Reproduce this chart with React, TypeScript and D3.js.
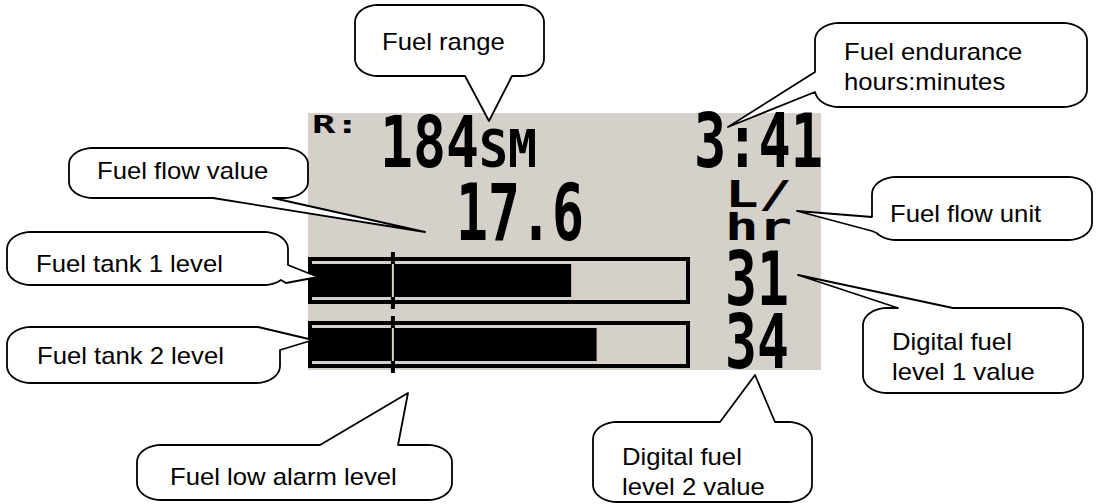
import React, { useEffect, useRef } from "react";
import * as d3 from "d3";

// readings shown on the fuel display
const tankNames = ["Tank 1", "Tank 2"];
const tankLevels = [31, 34];
const tankCapacity = 45;
const lowAlarmLevel = 10;
const rangeValue = 184;
const rangeUnit = "SM";
const enduranceText = "3:41";
const flowValue = 17.6;
const flowUnit = ["L/", "hr"];

// callout captions
const calloutTexts = [
  ["Fuel range"],
  ["Fuel endurance", "hours:minutes"],
  ["Fuel flow value"],
  ["Fuel flow unit"],
  ["Fuel tank 1 level"],
  ["Fuel tank 2 level"],
  ["Digital fuel", "level 1 value"],
  ["Fuel low alarm level"],
  ["Digital fuel", "level 2 value"],
];

const W = 1096;
const H = 504;

// sample a rounded rect outline clockwise, then splice the pointer wedge in
function calloutPath(box: number[], ptr: number[][]) {
  const [x, y, w, h] = box;
  const rx = Math.min(24, w * 0.12);
  const ry = Math.min(17, h * 0.32);
  const pts: [number, number][] = [];
  const corner = (cx: number, cy: number, a0: number) => {
    d3.range(0, 1.0001, 1 / 10).forEach(function (t) {
      const a = a0 + t * Math.PI / 2;
      pts.push([cx + rx * Math.cos(a), cy + ry * Math.sin(a)]);
    });
  };
  d3.range(x + rx, x + w - rx, 3).forEach(function (t) { pts.push([t, y]); });
  corner(x + w - rx, y + ry, -Math.PI / 2);
  d3.range(y + ry, y + h - ry, 3).forEach(function (t) { pts.push([x + w, t]); });
  corner(x + w - rx, y + h - ry, 0);
  d3.range(x + w - rx, x + rx, -3).forEach(function (t) { pts.push([t, y + h]); });
  corner(x + rx, y + h - ry, Math.PI / 2);
  d3.range(y + h - ry, y + ry, -3).forEach(function (t) { pts.push([x, t]); });
  corner(x + rx, y + ry, Math.PI);

  const nearest = (p: number[]) => d3.minIndex(pts, function (q) {
    return (q[0] - p[0]) ** 2 + (q[1] - p[1]) ** 2;
  });
  let b1 = ptr[0], b2 = ptr[1];
  let i1 = nearest(b1), i2 = nearest(b2);
  if (i1 > i2) { [i1, i2] = [i2, i1]; [b1, b2] = [b2, b1]; }
  const out = pts.slice(0, i1)
    .concat([[b1[0], b1[1]], [ptr[2][0], ptr[2][1]], [b2[0], b2[1]]] as [number, number][])
    .concat(pts.slice(i2 + 1));
  return d3.line()(out) + "Z";
}

export default function App() {
  const ref = useRef<SVGSVGElement>(null);

  useEffect(() => {
    const svg = d3.select(ref.current);
    svg.selectAll("*").remove();

    const panel = { x: 308, y: 113, w: 513, h: 257 };
    const lcdBg = "#d5d1ca";

    svg.append("rect")
      .attr("width", W).attr("height", H).attr("fill", "#fff");

    svg.append("rect")
      .attr("x", panel.x).attr("y", panel.y)
      .attr("width", panel.w).attr("height", panel.h)
      .attr("fill", lcdBg);

    // tank bars
    const x = d3.scaleLinear().domain([0, tankCapacity]).range([308, 690]);
    const y = d3.scaleBand().domain(tankNames).range([257, 368]).paddingInner(17 / 64);
    const bw = y.bandwidth();

    const bars = svg.append("g").selectAll("g")
      .data(tankLevels)
      .enter().append("g")
      .attr("transform", function (d, i) { return "translate(0," + y(tankNames[i]) + ")"; });

    bars.append("rect")
      .attr("x", x(0)).attr("y", 0)
      .attr("width", x(tankCapacity) - x(0)).attr("height", bw)
      .attr("fill", "#000");
    bars.append("rect")
      .attr("x", x(0) + 4).attr("y", 4)
      .attr("width", x(tankCapacity) - x(0) - 8).attr("height", bw - 8)
      .attr("fill", lcdBg);
    bars.append("rect")
      .attr("x", x(0)).attr("y", 7)
      .attr("width", function (d) { return x(d) - x(0); })
      .attr("height", bw - 14)
      .attr("fill", "#000");
    // low alarm marker
    bars.append("rect")
      .attr("x", x(lowAlarmLevel) - 2).attr("y", -5)
      .attr("width", 4).attr("height", bw + 10)
      .attr("fill", "#000");
    bars.append("rect")
      .attr("x", x(lowAlarmLevel) - 1).attr("y", 7)
      .attr("width", 2).attr("height", bw - 14)
      .attr("fill", lcdBg);

    const lcdFont = "'DejaVu Sans Mono', 'Liberation Mono', monospace";

    // range value with its unit, one text element
    const rangeText = svg.append("text")
      .attr("x", 380).attr("y", 167)
      .attr("font-family", lcdFont)
      .attr("font-weight", "bold")
      .attr("fill", "#000");
    rangeText.append("tspan")
      .attr("font-size", 72)
      .attr("textLength", 99)
      .attr("lengthAdjust", "spacingAndGlyphs")
      .text(String(rangeValue));
    rangeText.append("tspan")
      .attr("font-size", 52)
      .attr("textLength", 58)
      .attr("lengthAdjust", "spacingAndGlyphs")
      .text(rangeUnit);

    // other lcd readouts
    const lcd = [
      { t: "R:", x: 312, b: 133, s: 25, len: 47 },
      { t: enduranceText, x: 694, b: 167, s: 74, len: 129 },
      { t: flowValue.toFixed(1), x: 456, b: 240, s: 78, len: 128 },
      { t: flowUnit[0], x: 725, b: 207, s: 37, len: 67 },
      { t: flowUnit[1], x: 725, b: 240, s: 38, len: 67 },
      { t: String(tankLevels[0]), x: 725, b: 305, s: 75, len: 64 },
      { t: String(tankLevels[1]), x: 725, b: 368, s: 74, len: 64 },
    ];
    svg.append("g").selectAll("text")
      .data(lcd)
      .enter().append("text")
      .attr("x", function (d) { return d.x; })
      .attr("y", function (d) { return d.b; })
      .attr("font-family", lcdFont)
      .attr("font-weight", "bold")
      .attr("font-size", function (d) { return d.s; })
      .attr("textLength", function (d) { return d.len; })
      .attr("lengthAdjust", "spacingAndGlyphs")
      .attr("fill", "#000")
      .text(function (d) { return d.t; });

    // callouts
    const boxes = [
      [355, 5, 189, 71],
      [815, 23, 272, 84],
      [69, 148, 239, 50],
      [872, 177, 220, 63],
      [7, 232, 281, 53],
      [7, 327, 273, 56],
      [863, 308, 220, 85],
      [137, 445, 315, 55],
      [593, 422, 219, 80],
    ];
    const pointers = [
      [[465, 76], [512, 76], [489, 121]],
      [[815, 72], [815, 92], [728, 127]],
      [[213, 198], [273, 198], [425, 232]],
      [[872, 217], [872, 231], [797, 211]],
      [[288, 265], [286, 283], [318, 277]],
      [[258, 327], [280, 350], [313, 340]],
      [[898, 308], [953, 308], [798, 275]],
      [[320, 445], [398, 445], [408, 393]],
      [[720, 422], [775, 422], [755, 375]],
    ];
    const textPos = [
      [382, 50], [844, 60], [97, 179], [890, 222], [36, 272],
      [37, 364], [892, 350], [170, 485], [622, 465],
    ];

    const callouts = svg.append("g").selectAll("g")
      .data(calloutTexts)
      .enter().append("g");

    callouts.append("path")
      .attr("d", function (d, i) { return calloutPath(boxes[i], pointers[i]); })
      .attr("fill", "#fff")
      .attr("stroke", "#000")
      .attr("stroke-width", 1.8)
      .attr("stroke-linejoin", "round");

    callouts.each(function (lines, i) {
      const g = d3.select(this);
      lines.forEach(function (line, k) {
        g.append("text")
          .attr("transform", "translate(" + textPos[i][0] + "," + (textPos[i][1] + k * 30) + ") scale(1.07,1)")
          .attr("font-family", "'Liberation Sans', Arial, sans-serif")
          .attr("font-size", 24)
          .attr("fill", "#000")
          .text(line);
      });
    });
  }, []);

  return (
    <div style={{ position: "absolute", left: 0, top: 0 }}>
      <svg ref={ref} width={W} height={H} style={{ display: "block" }}></svg>
    </div>
  );
}
